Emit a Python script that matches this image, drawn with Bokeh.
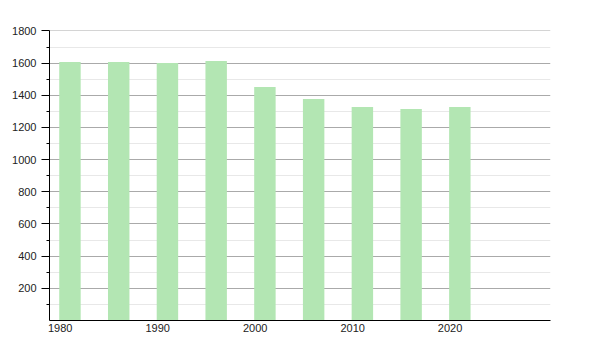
from bokeh.plotting import figure
from bokeh.models import Range1d, FixedTicker
from bokeh.embed import file_html
from bokeh.resources import INLINE

years = [1981, 1986, 1991, 1996, 2001, 2006, 2011, 2016, 2021]
population = [1607, 1607, 1601, 1614, 1452, 1377, 1327, 1315, 1327]
x_ticks = [1980, 1990, 2000, 2010, 2020]
y_ticks = [200, 400, 600, 800, 1000, 1200, 1400, 1600, 1800]
y_minor = [100, 300, 500, 700, 900, 1100, 1300, 1500, 1700]

p = figure(width=600, height=350, output_backend="svg", toolbar_location=None,
           x_range=Range1d(1978.9, 2030.3), y_range=Range1d(0, 1803),
           min_border_left=49, min_border_right=50, min_border_top=30, min_border_bottom=30)
p.outline_line_color = None
p.background_fill_color = "white"
p.border_fill_color = "white"

p.vbar(x=years, top=population, width=2.2, fill_color="#b3e6b3", line_color=None)

p.xaxis.ticker = FixedTicker(ticks=x_ticks, minor_ticks=[])
p.xaxis.major_tick_out = 0
p.xaxis.major_tick_in = 0
p.xaxis.minor_tick_out = 0
p.xaxis.major_label_standoff = 3
p.xgrid.grid_line_color = None

p.yaxis.ticker = FixedTicker(ticks=y_ticks, minor_ticks=y_minor)
p.yaxis.major_tick_out = 8
p.yaxis.major_tick_in = 0
p.yaxis.minor_tick_out = 3
p.yaxis.minor_tick_in = 0
p.yaxis.major_label_standoff = 5
p.ygrid.grid_line_color = "#aaaaaa"
p.ygrid.minor_grid_line_color = "#e8e8e8"

for ax in (p.xaxis, p.yaxis):
    ax.axis_line_color = "black"
    ax.major_tick_line_color = "black"
    ax.minor_tick_line_color = "black"
    ax.major_label_text_font = "Liberation Sans"
    ax.major_label_text_font_size = "11px"
    ax.major_label_text_color = "#222222"

open("out.html", "w").write(file_html(p, INLINE))
